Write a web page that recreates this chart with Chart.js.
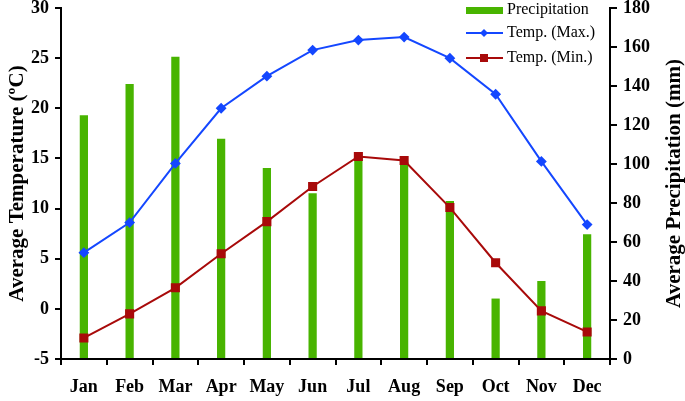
<!DOCTYPE html>
<html>
<head>
<meta charset="utf-8">
<script src="https://cdn.jsdelivr.net/npm/chart.js@4.4.1/dist/chart.umd.min.js"></script>
<style>
  html, body { margin: 0; padding: 0; background: #fff; }
  #wrap { width: 685px; height: 401px; }
</style>
</head>
<body>
<div id="wrap"><canvas id="grafico"></canvas></div>
<script>
// datos
const meses = ['Jan', 'Feb', 'Mar', 'Apr', 'May', 'Jun', 'Jul', 'Aug', 'Sep', 'Oct', 'Nov', 'Dec'];
const precipitacion = [125, 141, 155, 113, 98, 85, 104, 101, 81, 31, 40, 64];
const tempMax = [5.6, 8.6, 14.5, 20.0, 23.2, 25.8, 26.8, 27.1, 25.0, 21.4, 14.7, 8.4];
const tempMin = [-2.9, -0.5, 2.1, 5.5, 8.7, 12.2, 15.2, 14.8, 10.1, 4.6, -0.2, -2.3];

const VERDE = '#48b400';
const AZUL = '#1447ff';
const ROJO = '#a80a0a';
const FUENTE = "'Liberation Serif', 'Times New Roman', serif";
const tituloDerecho = 'Average Precipitation (mm)';

// leyenda dibujada dentro del area del grafico (arriba a la derecha)
// y titulo del eje derecho leido de abajo hacia arriba
const leyendaInterna = {
    id: 'leyendaInterna',
    afterDraw(chart) {
        const ctx = chart.ctx;
        const ds = chart.data.datasets;
        const x0 = 466, x1 = 503, xt = 507;
        const filas = [10, 33, 58];
        ctx.save();
        ctx.font = '16px ' + FUENTE;
        ctx.textBaseline = 'middle';
        ctx.fillStyle = '#000';

        // Precipitation
        ctx.fillStyle = VERDE;
        ctx.fillRect(x0, filas[0] - 3, x1 - x0, 7);
        ctx.fillStyle = '#000';
        ctx.fillText(ds[0].label, xt, filas[0]);

        // Temp. (Max.)
        ctx.strokeStyle = AZUL;
        ctx.lineWidth = 2;
        ctx.beginPath(); ctx.moveTo(x0, filas[1]); ctx.lineTo(x1, filas[1]); ctx.stroke();
        ctx.fillStyle = AZUL;
        ctx.beginPath();
        ctx.moveTo(484, filas[1] - 4); ctx.lineTo(488, filas[1]);
        ctx.lineTo(484, filas[1] + 4); ctx.lineTo(480, filas[1]);
        ctx.closePath(); ctx.fill();
        ctx.fillStyle = '#000';
        ctx.fillText(ds[1].label, xt, filas[1]);

        // Temp. (Min.)
        ctx.strokeStyle = ROJO;
        ctx.beginPath(); ctx.moveTo(x0, filas[2]); ctx.lineTo(x1, filas[2]); ctx.stroke();
        ctx.fillStyle = ROJO;
        ctx.fillRect(480, filas[2] - 4, 8, 8);
        ctx.fillStyle = '#000';
        ctx.fillText(ds[2].label, xt, filas[2]);

        // titulo eje derecho
        const area = chart.chartArea;
        ctx.translate(675, (area.top + area.bottom) / 2);
        ctx.rotate(-Math.PI / 2);
        ctx.font = 'bold 21px ' + FUENTE;
        ctx.textAlign = 'center';
        ctx.fillText(tituloDerecho, 0, 0);
        ctx.restore();
    }
};

const ejeNegro = { color: '#000', width: 2 };
const fuenteTicks = { family: FUENTE, size: 18, weight: 'bold' };

// ancho fijo del eje y margen de arriba fijo (el area empieza en y=8)
function ajustarEje(ancho) {
    return function (scale) {
        scale.width = ancho;
        scale.paddingTop = 8;
        scale.paddingBottom = 0;
    };
}

new Chart(document.getElementById('grafico'), {
    type: 'bar',
    data: {
        labels: meses,
        datasets: [
            {
                label: 'Precipitation',
                data: precipitacion,
                yAxisID: 'y1',
                backgroundColor: VERDE,
                categoryPercentage: 1,
                barPercentage: 0.18,
                order: 3
            },
            {
                type: 'line',
                label: 'Temp. (Max.)',
                data: tempMax,
                yAxisID: 'y',
                borderColor: AZUL,
                backgroundColor: AZUL,
                borderWidth: 2,
                pointStyle: 'rectRot',
                pointRadius: 4,
                pointHoverRadius: 4,
                tension: 0,
                order: 2
            },
            {
                type: 'line',
                label: 'Temp. (Min.)',
                data: tempMin,
                yAxisID: 'y',
                borderColor: ROJO,
                backgroundColor: ROJO,
                borderWidth: 2,
                pointStyle: 'rect',
                pointRadius: 5,
                pointHoverRadius: 5,
                tension: 0,
                order: 1
            }
        ]
    },
    options: {
        responsive: true,
        maintainAspectRatio: false,
        animation: false,
        layout: { padding: 0 },
        plugins: {
            legend: { display: false },
            tooltip: { enabled: false }
        },
        scales: {
            x: {
                offset: true,
                border: ejeNegro,
                grid: { offset: true, drawOnChartArea: false, tickLength: 6, color: '#000', lineWidth: 2 },
                ticks: { color: '#000', padding: 12, font: fuenteTicks },
                afterFit(scale) { scale.height = 42; }
            },
            y: {
                position: 'left',
                min: -5,
                max: 30,
                border: ejeNegro,
                grid: { drawOnChartArea: false, tickLength: 6, color: '#000', lineWidth: 2 },
                ticks: { stepSize: 5, color: '#000', padding: 6, font: fuenteTicks },
                title: {
                    display: true,
                    text: 'Average Temperature (ºC)',
                    color: '#000',
                    padding: { top: 5, bottom: 0 },
                    font: { family: FUENTE, size: 21, weight: 'bold' }
                },
                afterFit: ajustarEje(61)
            },
            y1: {
                position: 'right',
                min: 0,
                max: 180,
                border: ejeNegro,
                grid: { drawOnChartArea: false, tickLength: 7, color: '#000', lineWidth: 2 },
                ticks: { stepSize: 20, color: '#000', padding: 6, font: fuenteTicks },
                afterFit: ajustarEje(75)
            }
        }
    },
    plugins: [leyendaInterna]
});
</script>
</body>
</html>
